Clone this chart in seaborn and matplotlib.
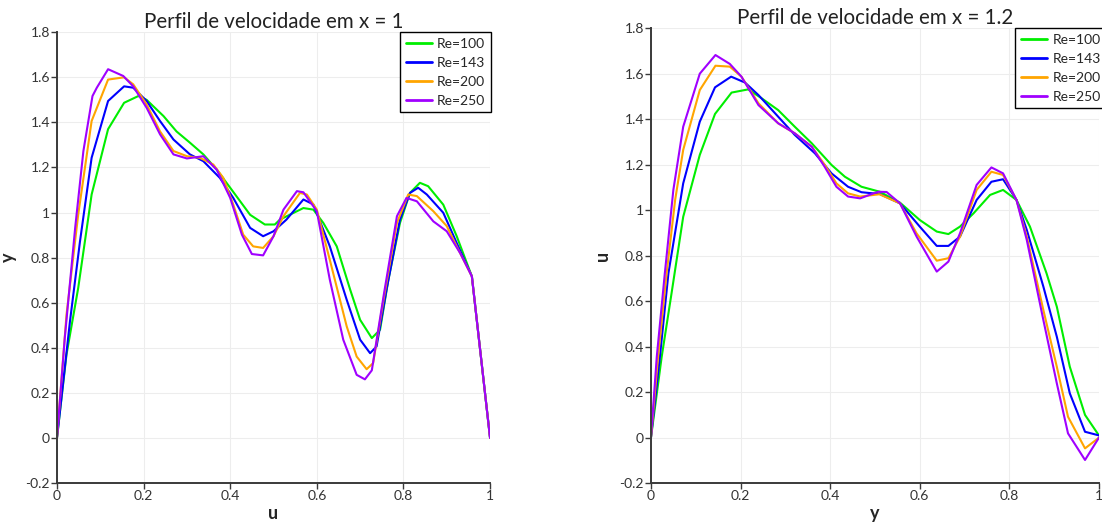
import matplotlib
matplotlib.use("Agg")
import matplotlib.pyplot as plt
import pandas as pd
import seaborn as sns

# perfil em x = 1
pos_a_100 = [0, 0.022, 0.049, 0.080, 0.118, 0.155, 0.188, 0.207, 0.246, 0.276, 0.307, 0.338, 0.369, 0.40,
             0.446, 0.48, 0.503, 0.515, 0.569, 0.592, 0.615, 0.646, 0.677, 0.70, 0.727, 0.746, 0.765, 0.792,
             0.815, 0.838, 0.857, 0.892, 0.923, 0.958, 1.0]
val_a_100 = [0, 0.37, 0.665, 1.08, 1.37, 1.487, 1.517, 1.50, 1.428, 1.36, 1.31, 1.258, 1.19, 1.11,
             0.99, 0.947, 0.947, 0.969, 1.02, 1.013, 0.954, 0.85, 0.658, 0.524, 0.443, 0.48, 0.70, 0.954,
             1.087, 1.132, 1.117, 1.035, 0.895, 0.717, 0]
pos_a_143 = [0, 0.030, 0.053, 0.080, 0.118, 0.155, 0.176, 0.207, 0.238, 0.269, 0.307, 0.338, 0.376, 0.407,
             0.446, 0.476, 0.50, 0.53, 0.569, 0.592, 0.63, 0.669, 0.70, 0.723, 0.738, 0.761, 0.792, 0.815,
             0.834, 0.854, 0.892, 0.923, 0.958, 1.0]
val_a_143 = [0, 0.517, 0.87, 1.243, 1.495, 1.56, 1.554, 1.495, 1.406, 1.324, 1.258, 1.228, 1.154, 1.065,
             0.932, 0.895, 0.917, 0.969, 1.058, 1.036, 0.85, 0.613, 0.436, 0.376, 0.406, 0.658, 0.969, 1.087,
             1.11, 1.08, 0.999, 0.865, 0.717, 0]
pos_a_200 = [0, 0.022, 0.049, 0.080, 0.118, 0.155, 0.176, 0.207, 0.238, 0.269, 0.30, 0.33, 0.361, 0.384,
             0.407, 0.430, 0.453, 0.476, 0.50, 0.523, 0.561, 0.577, 0.60, 0.63, 0.669, 0.692, 0.715, 0.73,
             0.754, 0.785, 0.811, 0.831, 0.869, 0.90, 0.923, 0.958, 1.0]
val_a_200 = [0, 0.547, 0.99, 1.406, 1.59, 1.60, 1.569, 1.48, 1.36, 1.273, 1.25, 1.243, 1.213, 1.154,
             1.036, 0.902, 0.85, 0.843, 0.895, 0.984, 1.087, 1.08, 1.013, 0.79, 0.495, 0.361, 0.305, 0.332,
             0.613, 0.954, 1.08, 1.073, 1.006, 0.94, 0.85, 0.717, 0]
pos_a_250 = [0, 0.018, 0.042, 0.061, 0.082, 0.092, 0.118, 0.153, 0.176, 0.207, 0.238, 0.269, 0.30, 0.338,
             0.369, 0.40, 0.427, 0.45, 0.476, 0.50, 0.523, 0.554, 0.569, 0.60, 0.63, 0.661, 0.692, 0.711,
             0.727, 0.754, 0.785, 0.807, 0.831, 0.869, 0.90, 0.931, 0.958, 1.0]
val_a_250 = [0, 0.443, 0.932, 1.273, 1.517, 1.554, 1.636, 1.606, 1.56, 1.465, 1.347, 1.258, 1.24, 1.25,
             1.19, 1.065, 0.902, 0.816, 0.81, 0.895, 1.013, 1.095, 1.09, 1.006, 0.702, 0.436, 0.28, 0.26,
             0.30, 0.628, 0.984, 1.065, 1.05, 0.961, 0.917, 0.82, 0.717, 0]

# perfil em x = 1.2
pos_b_100 = [0, 0.024, 0.046, 0.072, 0.109, 0.143, 0.18, 0.217, 0.247, 0.284, 0.321, 0.359, 0.403, 0.433,
             0.47, 0.511, 0.556, 0.60, 0.638, 0.664, 0.69, 0.72, 0.757, 0.786, 0.816, 0.846, 0.883, 0.906,
             0.935, 0.969, 1.0]
val_b_100 = [0, 0.356, 0.635, 0.971, 1.243, 1.423, 1.517, 1.531, 1.492, 1.44, 1.367, 1.294, 1.199, 1.147,
             1.103, 1.081, 1.033, 0.957, 0.906, 0.895, 0.928, 0.986, 1.067, 1.089, 1.045, 0.928, 0.723, 0.576,
             0.312, 0.10, 0.01]
pos_b_143 = [0, 0.020, 0.039, 0.072, 0.109, 0.143, 0.179, 0.21, 0.24, 0.284, 0.321, 0.366, 0.403, 0.44,
             0.47, 0.511, 0.556, 0.60, 0.638, 0.664, 0.69, 0.727, 0.76, 0.786, 0.816, 0.839, 0.876, 0.906,
             0.935, 0.969, 1.0]
val_b_143 = [0, 0.356, 0.723, 1.118, 1.389, 1.54, 1.587, 1.561, 1.506, 1.411, 1.331, 1.25, 1.162, 1.103,
             1.079, 1.071, 1.03, 0.928, 0.843, 0.843, 0.884, 1.045, 1.125, 1.136, 1.045, 0.913, 0.664, 0.444,
             0.195, 0.026, 0.01]
pos_b_200 = [0, 0.016, 0.035, 0.054, 0.072, 0.109, 0.144, 0.176, 0.202, 0.24, 0.284, 0.321, 0.359, 0.388,
             0.414, 0.44, 0.467, 0.51, 0.556, 0.593, 0.638, 0.664, 0.69, 0.727, 0.76, 0.786, 0.816, 0.839,
             0.876, 0.906, 0.931, 0.969, 1.0]
val_b_200 = [0, 0.356, 0.723, 1.045, 1.265, 1.528, 1.635, 1.631, 1.587, 1.47, 1.382, 1.338, 1.279, 1.199,
             1.118, 1.074, 1.06, 1.07, 1.03, 0.898, 0.778, 0.789, 0.884, 1.089, 1.169, 1.155, 1.045, 0.884,
             0.561, 0.312, 0.092, -0.047, 0.0]
pos_b_250 = [0, 0.013, 0.031, 0.05, 0.072, 0.109, 0.144, 0.176, 0.202, 0.24, 0.284, 0.321, 0.359, 0.388,
             0.414, 0.44, 0.467, 0.507, 0.526, 0.556, 0.593, 0.638, 0.664, 0.69, 0.727, 0.76, 0.786, 0.816,
             0.839, 0.876, 0.906, 0.931, 0.969, 1.0]
val_b_250 = [0, 0.356, 0.723, 1.089, 1.367, 1.60, 1.682, 1.643, 1.587, 1.462, 1.382, 1.338, 1.279, 1.19,
             1.103, 1.06, 1.052, 1.081, 1.08, 1.03, 0.884, 0.73, 0.774, 0.899, 1.111, 1.188, 1.162, 1.045,
             0.869, 0.517, 0.239, 0.019, -0.098, 0.0]

labels = ['Re=100', 'Re=143', 'Re=200', 'Re=250']
colors = ['#00ee00', '#0000ff', '#ffa500', '#a000ff']
ticks = [0, 0.2, 0.4, 0.6, 0.8, 1]
yticks = [-0.2, 0, 0.2, 0.4, 0.6, 0.8, 1, 1.2, 1.4, 1.6, 1.8]


def to_frame(pos_list, val_list):
    parts = []
    for lab, p, v in zip(labels, pos_list, val_list):
        parts.append(pd.DataFrame({'pos': p, 'val': v, 'Re': lab}))
    return pd.concat(parts, ignore_index=True)


df_a = to_frame([pos_a_100, pos_a_143, pos_a_200, pos_a_250], [val_a_100, val_a_143, val_a_200, val_a_250])
df_b = to_frame([pos_b_100, pos_b_143, pos_b_200, pos_b_250], [val_b_100, val_b_143, val_b_200, val_b_250])

sns.set_style('whitegrid', {'grid.color': '#ededed', 'axes.edgecolor': '#3a3a3a',
                            'xtick.bottom': True, 'ytick.left': True})
plt.rcParams['font.family'] = ['Lato', 'DejaVu Sans']

fig = plt.figure(figsize=(11.02, 5.26), dpi=100)
ax1 = fig.add_axes([0.0517, 0.0817, 0.393, 0.857])
ax2 = fig.add_axes([0.5907, 0.0814, 0.4065, 0.865])

panels = [(ax1, df_a, 'Perfil de velocidade em x = 1', 'u', 'y', 1.002),
          (ax2, df_b, 'Perfil de velocidade em x = 1.2', 'y', 'u', 1.016)]

for ax, df, title, xl, yl, lx in panels:
    sns.lineplot(data=df, x='pos', y='val', hue='Re', palette=colors, sort=False,
                 estimator=None, linewidth=1.5, ax=ax)
    ax.set_xlim(0, 1)
    ax.set_ylim(-0.2, 1.8)
    ax.set_xticks(ticks)
    ax.set_xticklabels(['0', '0.2', '0.4', '0.6', '0.8', '1'])
    ax.set_yticks(yticks)
    ax.set_yticklabels(['-0.2', '0', '0.2', '0.4', '0.6', '0.8', '1', '1.2', '1.4', '1.6', '1.8'])
    ax.tick_params(direction='out', length=4, width=1, colors='#3a3a3a', labelsize=10, pad=1,
                   labelcolor='#333333')
    ax.set_title(title, fontsize=14.8, color='#222222', pad=2)
    ax.set_xlabel(xl, fontsize=13, fontweight='bold', labelpad=2)
    ax.set_ylabel(yl, fontsize=13, fontweight='bold', labelpad=6)
    sns.despine(ax=ax)
    for s in ['left', 'bottom']:
        ax.spines[s].set_linewidth(1.4)
    leg = ax.legend(loc='upper right', bbox_to_anchor=(lx, 1.0), borderaxespad=0, fontsize=10,
                    frameon=True, fancybox=False, edgecolor='black', framealpha=1,
                    handlelength=1.9, handletextpad=0.35, labelspacing=0.5, borderpad=0.4)
    leg.get_frame().set_linewidth(1.0)
    for line in leg.get_lines():
        line.set_linewidth(2)

fig.savefig('out.png', dpi=100)
